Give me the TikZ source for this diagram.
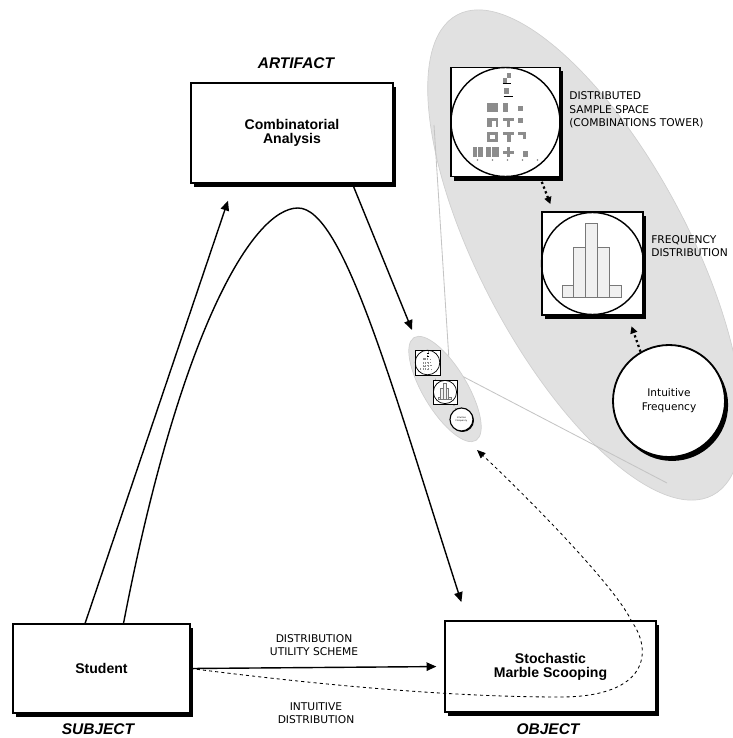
\documentclass[tikz,border=0pt]{standalone}
\usepackage{fontspec}
\setmainfont{Liberation Sans}
\newfontfamily\notefont{DejaVu Sans}
\usetikzlibrary{arrows.meta,shadows}

\definecolor{ovalfill}{RGB}{225,225,225}
\definecolor{ovaledge}{RGB}{208,208,208}
\definecolor{zoomline}{RGB}{196,196,196}
\definecolor{blockgray}{RGB}{140,140,140}
\definecolor{barfill}{RGB}{240,240,240}
\definecolor{baredge}{RGB}{120,120,120}

\tikzset{
  shadowbox/.style={draw, line width=0.9pt, fill=white, inner sep=0pt,
    drop shadow={shadow xshift=2.2pt, shadow yshift=-2.8pt, fill=black, opacity=1}},
  minibox/.style={draw, line width=0.6pt, fill=white, inner sep=0pt,
    drop shadow={shadow xshift=0.7pt, shadow yshift=-0.7pt, fill=black, opacity=1}},
  boxlabel/.style={font=\fontsize{10}{10}\selectfont\bfseries, align=center},
  rolelabel/.style={font=\fontsize{11}{12}\selectfont\bfseries\itshape, inner sep=0pt},
  notelabel/.style={font=\notefont\fontsize{7.6}{9.6}\selectfont, align=left, inner sep=0pt},
  mainarrow/.style={line width=1pt, -{Triangle[length=7pt,width=6pt]}},
  dotarrow/.style={line width=1.6pt, dotted, -{Triangle[length=5pt,width=5pt]}},
  dasharrow/.style={line width=0.6pt, dash pattern=on 2.2pt off 2.2pt, -{Triangle[length=6pt,width=5pt]}},
  % combinations tower, drawn round its centre
  towerpic/.pic={
    \foreach \xa/\ya/\xb/\yb in {-3/-44/1/-39, 1/-49/5/-44, -2/-34/3/-28,
        -19/-19/-8/-10, -3/-19/2/-10, 12/-16/17/-11,
        -19/-4/-8/5, -3/-4/8/-1, 1/-1/4/5, 12/-4/17/1,
        -19/10/-8/20, -3/10/8/13, 1/13/5/20, 12/10/20/13, 17/13/20/17,
        -33/25/-23/35, -20/25/-7/35, -3/29/8/32, 1/25/4/35, 17/29/22/35}
      \fill[blockgray] (\xa,\ya) rectangle (\xb,\yb);
    \fill[white] (-16,13) rectangle (-11,17);
    \fill[white] (-14,-1) rectangle (-10,5);
    \draw[white, line width=0.4pt] (-28,25) -- (-28,35) (-14,25) -- (-14,35);
    \draw[black, line width=0.5pt] (-2,-26) -- (7,-26) (-3,-39) -- (5,-39);
    \foreach \xd in {-28,-13,2,17,32}
      \fill[gray] (\xd,38) circle [radius=0.8];
  },
  % frequency histogram, drawn round its centre
  histpic/.pic={
    \foreach \xa/\xb/\ya in {-30/-19/22, -19/-7/-16, -7/5/-40, 5/17/-16, 17/29/22}
      \draw[baredge, fill=barfill, line width=0.5pt] (\xa,\ya) rectangle (\xb,34);
  }
}

\begin{document}
\begin{tikzpicture}[x=0.25mm, y=-0.25mm]
  \useasboundingbox (0,0) rectangle (732,738);

  % Zoom ovals
  \fill[ovalfill, draw=ovaledge, line width=0.5pt, rotate around={-62:(585,255)}]
    (585,255) ellipse [x radius=272, y radius=104];
  \draw[zoomline, line width=0.6pt] (449,360) -- (434,125);
  \draw[zoomline, line width=0.6pt] (462,376) -- (667,483);
  \fill[ovalfill, draw=ovaledge, line width=0.5pt, rotate around={-59:(445,389)}]
    (445,389) ellipse [x radius=60, y radius=22];

  % Distributed sample space
  \node[shadowbox, minimum size=27.3mm] (tower) at (505.5,122) {};
  \draw[line width=1pt] (tower.center) circle [radius=54.5];
  \pic at (tower.center) {towerpic};

  % Frequency distribution
  \node[shadowbox, minimum width=25.3mm, minimum height=25.8mm] (freq) at (592.5,263.5) {};
  \draw[line width=1pt] (freq.center) circle [radius=51];
  \pic at (freq.center) {histpic};

  % Intuitive frequency
  \node[shadowbox, circle, minimum size=28mm, line width=1.3pt, align=center,
    font=\notefont\fontsize{7.5}{10}\selectfont] (intu) at (669,401) {Intuitive\\Frequency};

  \draw[dotarrow, shorten <=3.5pt, shorten >=5.5pt] (tower.-58) -- (freq.127);
  \draw[dotarrow, shorten >=8pt] (intu.120) -- (freq.-56);

  % Small copies inside the little oval
  \node[minibox, minimum size=6.25mm] (minitower) at (427.5,362.5) {};
  \draw[line width=0.5pt] (minitower.center) circle [radius=12.3];
  \pic[scale=0.225] at (minitower.center) {towerpic};
  \node[minibox, minimum size=6mm] (minihist) at (445,392) {};
  \draw[line width=0.5pt] (minihist.center) circle [radius=11.6];
  \pic[scale=0.225] at (minihist.center) {histpic};
  \node[minibox, circle, minimum size=5.75mm, line width=0.8pt, align=center,
    font=\notefont\fontsize{1.6}{2.1}\selectfont] (miniintu) at (461.5,419.5) {Intuitive\\Frequency};
  \draw[dotted, line width=0.4pt] (minitower.-58) -- (minihist.127);
  \draw[dotted, line width=0.4pt] (miniintu.120) -- (minihist.-56);

  % Triangle boxes
  \node[shadowbox, boxlabel, minimum width=50.5mm, minimum height=25mm] (comb) at (292,133) {Combinatorial\\Analysis};
  \node[shadowbox, boxlabel, minimum width=44.25mm, minimum height=22.25mm] (student) at (101.5,668.5) {Student};
  \node[shadowbox, boxlabel, minimum width=52.75mm, minimum height=22.75mm] (marble) at (550.5,666.5) {Stochastic\\Marble Scooping};

  % Labels
  \node[rolelabel] (artifact) at (296,63) {ARTIFACT};
  \node[rolelabel] (subject) at (98,729) {SUBJECT};
  \node[rolelabel] (object) at (548,729) {OBJECT};
  \node[notelabel, anchor=west] (towernote) at (569,110) {DISTRIBUTED\\SAMPLE SPACE\\(COMBINATIONS TOWER)};
  \node[notelabel, anchor=west] (freqnote) at (651,246) {FREQUENCY\\DISTRIBUTION};
  \node[notelabel, align=center] (utility) at (314,645) {DISTRIBUTION\\UTILITY SCHEME};
  \node[notelabel, align=center] (intuitive) at (316,713) {INTUITIVE\\DISTRIBUTION};

  % Connectors
  \coordinate (zoomtop) at (412,330);
  \coordinate (zoombot) at (477,450);
  \draw[mainarrow, shorten >=4.5mm] (student.110) -- (comb.-139);
  \draw[mainarrow] (comb.-40) -- (zoomtop);
  \draw[mainarrow, shorten >=4.8mm] (student.64) .. controls (180,330) and (253,208) .. (298,208)
    .. controls (343,208) and (391,383) .. (marble.151);
  \draw[mainarrow, shorten >=2mm] (student.east) -- (marble.west);
  \draw[dasharrow] (student.east) .. controls (320,685) and (450,697) .. (560,697)
    .. controls (650,697) and (652,650) .. (632,622)
    .. controls (615,585) and (520,490) .. (zoombot);

\end{tikzpicture}
\end{document}
